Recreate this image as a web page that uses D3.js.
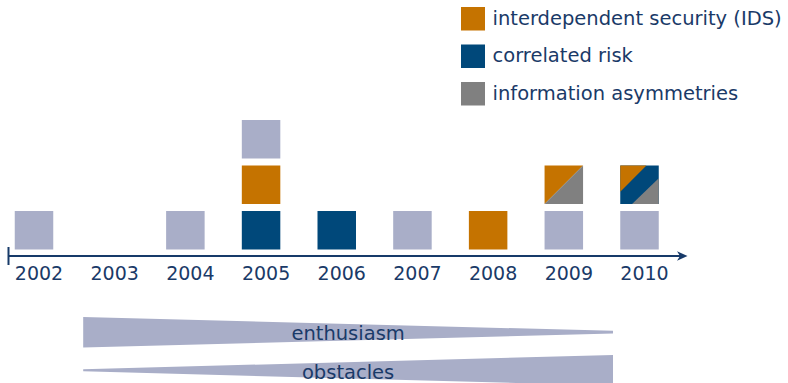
<!DOCTYPE html>
<html>
<head>
<meta charset="utf-8">
<script src="https://cdn.jsdelivr.net/npm/d3@7"></script>
<style>
  html, body { margin: 0; padding: 0; background: #fff; }
  svg { display: block; }
  text { font-family: "DejaVu Sans", sans-serif; fill: #1a3a68; }
</style>
</head>
<body>
<svg id="chart" width="788" height="383"></svg>
<script>
// ---------- data ----------
const years = [2002, 2003, 2004, 2005, 2006, 2007, 2008, 2009, 2010];
// stacked items per year, bottom to top
const stacks = [
  ["other"],
  [],
  ["other"],
  ["corr", "ids", "other"],
  ["corr"],
  ["other"],
  ["ids"],
  ["other", "ids+info"],
  ["other", "ids+corr+info"]
];
const legendKeys = ["ids", "corr", "info"];
const legendLabels = ["interdependent security (IDS)", "correlated risk", "information asymmetries"];
const colors = { other: "#a9aec8", ids: "#c57300", corr: "#00487a", info: "#808080" };

// trend wedges: start/end in years, relative thickness at start/end
const wedgeLabels = ["enthusiasm", "obstacles"];
const wedgeStart = [2002.65, 2002.65];
const wedgeEnd = [2009.65, 2009.65];
const wedgeFrom = [1, 0.03];
const wedgeTo = [0.05, 1];

// ---------- layout ----------
const svg = d3.select("#chart");
const x = d3.scalePoint().domain(years).range([34, 639.5]);
const xc = d3.scaleLinear().domain([2002, 2010]).range([34, 639.5]);
const size = 38.5;
const rowY = d3.scaleLinear().domain([0, 1]).range([211, 165.5]); // top of square by row

// ---------- squares ----------
const cells = [];
years.forEach((yr, i) => stacks[i].forEach((t, r) => cells.push({ yr, t, r })));

const g = svg.append("g");
cells.forEach(c => {
  const x0 = x(c.yr) - size / 2, y0 = rowY(c.r), s = size;
  const parts = c.t.split("+");
  if (parts.length === 1) {
    g.append("rect").attr("x", x0).attr("y", y0).attr("width", s).attr("height", s)
      .attr("fill", colors[parts[0]]);
  } else if (parts.length === 2) {
    // top-left / bottom-right diagonal split
    g.append("path").attr("d", `M${x0},${y0}H${x0 + s}L${x0},${y0 + s}Z`).attr("fill", colors[parts[0]]);
    g.append("path").attr("d", `M${x0 + s},${y0}V${y0 + s}H${x0}Z`).attr("fill", colors[parts[1]]);
  } else {
    const a = 0.68, b = 0.33;
    g.append("rect").attr("x", x0).attr("y", y0).attr("width", s).attr("height", s).attr("fill", colors[parts[1]]);
    g.append("path").attr("d", `M${x0},${y0}H${x0 + a * s}L${x0},${y0 + a * s}Z`).attr("fill", colors[parts[0]]);
    g.append("path").attr("d", `M${x0 + s},${y0 + (1 - a) * s + 0.5}V${y0 + s}H${x0 + (1 - a) * s - 0.5}Z`).attr("fill", colors[parts[2]]);
  }
});

// ---------- axis ----------
const axisY = 256;
const navy = "#173a69";
svg.append("line").attr("x1", 8).attr("x2", 682).attr("y1", axisY).attr("y2", axisY)
  .attr("stroke", navy).attr("stroke-width", 2);
svg.append("line").attr("x1", 8.5).attr("x2", 8.5).attr("y1", 247).attr("y2", 265)
  .attr("stroke", navy).attr("stroke-width", 2);
svg.append("path").attr("d", `M677,${axisY - 4.8}L687.5,${axisY}L677,${axisY + 4.8}L680,${axisY}Z`).attr("fill", navy);

svg.append("g").selectAll("text").data(years).join("text")
  .attr("x", d => x(d) + 5).attr("y", 280)
  .attr("text-anchor", "middle").attr("font-size", 19)
  .text(d => d);

// ---------- legend ----------
const lg = svg.append("g");
legendKeys.forEach((k, i) => {
  const y0 = 7 + i * 37.5;
  lg.append("rect").attr("x", 461).attr("y", y0).attr("width", 24).attr("height", 23.5).attr("fill", colors[k]);
  lg.append("text").attr("x", 492.5).attr("y", y0 + 17.5).attr("font-size", 19.5).text(legendLabels[i]);
});

// ---------- wedges ----------
const wedgeCenter = [332.2, 370.3];
const halfMax = 15.3;
const wy = d3.scaleLinear().domain([0, 1]).range([0.6, halfMax]);
wedgeLabels.forEach((lab, i) => {
  const xa = xc(wedgeStart[i]), xb = xc(wedgeEnd[i]), cy = wedgeCenter[i];
  const ha = wy(wedgeFrom[i]), hb = wy(wedgeTo[i]);
  svg.append("path")
    .attr("d", `M${xa},${cy - ha}L${xb},${cy - hb}L${xb},${cy + hb}L${xa},${cy + ha}Z`)
    .attr("fill", colors.other);
  svg.append("text").attr("x", (xa + xb) / 2).attr("y", cy + 8.2)
    .attr("text-anchor", "middle").attr("font-size", 19.5).text(lab);
});
</script>
</body>
</html>
